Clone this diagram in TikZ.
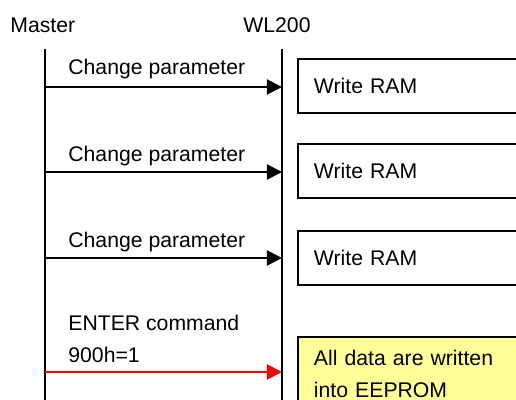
\documentclass[tikz,border=0pt]{standalone}
\usepackage{fontspec}
\setmainfont{Liberation Sans}
\usetikzlibrary{
  arrows.meta,
  positioning
}
\definecolor{wlred}{HTML}{FF0000}
\definecolor{wlyellow}{HTML}{FFFF99}

\begin{document}
\begin{tikzpicture}[
      x=0.5pt, y=-0.5pt,
      every node/.style={font=\fontsize{10.6}{16}\selectfont},
      lbl/.style={anchor=base west, inner sep=0pt},
      life/.style={line width=1pt},
      msg/.style={-{Triangle[length=7.5pt, width=7.5pt]}, line width=1pt},
      box/.style={
        rectangle, draw, line width=1pt, anchor=north west,
        minimum height=27pt, text width=115pt,
        inner xsep=8pt, align=left
      },
      ebox/.style={box, fill=wlyellow, minimum height=37pt}
    ]
      \useasboundingbox (0,0) rectangle (516,400);
      \clip (0,0) rectangle (516,400);

      % headers
      \node[lbl] (master) at (10,33) {Master};
      \node[lbl] (wl) at (243,33) {WL200};

      % lifelines
      \coordinate (mtop) at (45,49);
      \coordinate (mbot) at (45,405);
      \coordinate (wtop) at (282,49);
      \coordinate (wbot) at (282,405);
      \draw[life] (mtop) -- (mbot);
      \draw[life] (wtop) -- (wbot);

      % message ends
      \coordinate (m1) at (45,87);   \coordinate (w1) at (282,87);
      \coordinate (m2) at (45,172);  \coordinate (w2) at (282,172);
      \coordinate (m3) at (45,258);  \coordinate (w3) at (282,258);
      \coordinate (m4) at (45,372);  \coordinate (w4) at (282,372);

      % parameter changes
      \node[lbl] (chg1) at (68,75) {Change parameter};
      \draw[msg] (m1) -- (w1);
      \node[box] (ram1) at (297,58) {Write RAM};

      \node[lbl] (chg2) at (68,162) {Change parameter};
      \draw[msg] (m2) -- (w2);
      \node[box] (ram2) at (297,143) {Write RAM};

      \node[lbl] (chg3) at (68,248) {Change parameter};
      \draw[msg] (m3) -- (w3);
      \node[box] (ram3) at (297,230) {Write RAM};

      % enter command
      \node[lbl] (enter) at (68,331) {ENTER command};
      \node[lbl] (cmd) at (68,363) {900h=1};
      \draw[msg, wlred] (m4) -- (w4);
      \node[ebox] (eeprom) at (297,336) {All data are written\\into EEPROM};
    \end{tikzpicture}
\end{document}
